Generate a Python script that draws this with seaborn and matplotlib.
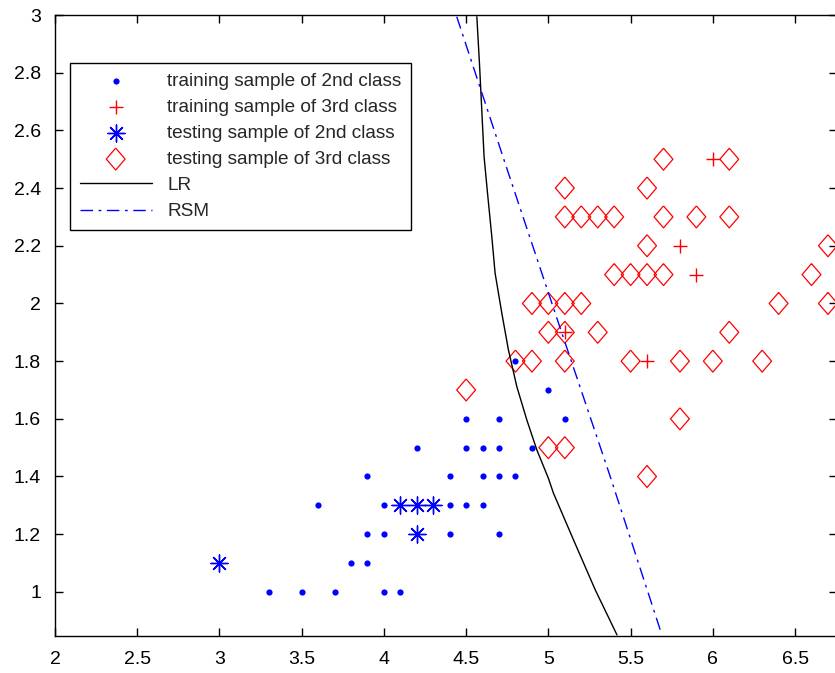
import matplotlib
matplotlib.use("Agg")
import matplotlib.pyplot as plt
import seaborn as sns
from matplotlib.ticker import FormatStrFormatter, MultipleLocator

# training sample of 2nd class (petal length, petal width)
train2_x = [5.0, 4.5, 4.7, 5.1, 4.8, 4.2, 4.5, 4.6, 4.7, 4.9, 3.9, 4.4, 4.6, 4.7, 4.8,
            3.6, 4.0, 4.4, 4.5, 4.6, 3.9, 4.0, 4.4, 4.7, 3.8, 3.9, 3.3, 3.5, 3.7, 4.0, 4.1]
train2_y = [1.7, 1.6, 1.6, 1.6, 1.8, 1.5, 1.5, 1.5, 1.5, 1.5, 1.4, 1.4, 1.4, 1.4, 1.4,
            1.3, 1.3, 1.3, 1.3, 1.3, 1.2, 1.2, 1.2, 1.2, 1.1, 1.1, 1.0, 1.0, 1.0, 1.0, 1.0]

# training sample of 3rd class
train3_x = [6.0, 5.8, 5.9, 5.6, 5.1]
train3_y = [2.5, 2.2, 2.1, 1.8, 1.9]

# testing sample of 2nd class
test2_x = [4.1, 4.2, 4.3, 4.2, 3.0]
test2_y = [1.3, 1.3, 1.3, 1.2, 1.1]

# testing sample of 3rd class
test3_x = [5.7, 6.1,
           5.1, 5.6,
           5.1, 5.2, 5.3, 5.4, 5.7, 5.9, 6.1,
           5.6, 6.7,
           5.4, 5.5, 5.6, 5.7, 6.6,
           4.9, 5.0, 5.1, 5.2, 6.4, 6.7,
           5.0, 5.1, 5.3, 6.1,
           4.8, 4.9, 5.1, 5.5, 5.8, 6.0, 6.3,
           4.5, 5.8, 5.0, 5.1, 5.6]
test3_y = [2.5, 2.5,
           2.4, 2.4,
           2.3, 2.3, 2.3, 2.3, 2.3, 2.3, 2.3,
           2.2, 2.2,
           2.1, 2.1, 2.1, 2.1, 2.1,
           2.0, 2.0, 2.0, 2.0, 2.0, 2.0,
           1.9, 1.9, 1.9, 1.9,
           1.8, 1.8, 1.8, 1.8, 1.8, 1.8, 1.8,
           1.7, 1.6, 1.5, 1.5, 1.4]

# decision boundaries
lr_x = [4.565, 4.581, 4.595, 4.609, 4.630, 4.656, 4.676, 4.717, 4.757, 4.808,
        4.869, 4.930, 5.000, 5.031, 5.153, 5.285, 5.417]
lr_y = [2.994, 2.832, 2.671, 2.509, 2.382, 2.232, 2.105, 1.966, 1.839, 1.712,
        1.596, 1.492, 1.394, 1.342, 1.180, 1.007, 0.851]
rsm_x = [4.443, 4.727, 5.055, 5.376, 5.690]
rsm_y = [2.994, 2.503, 1.943, 1.400, 0.851]

sns.set_style("ticks")
plt.rcParams["font.family"] = ["Liberation Sans", "DejaVu Sans"]

fig = plt.figure(figsize=(8.35, 6.73), dpi=100)
ax = fig.add_axes([55 / 835, 37 / 673, 782 / 835, 621 / 673])

diamond = [(0, 1), (0.86, 0), (0, -1), (-0.86, 0), (0, 1)]

sns.scatterplot(x=train2_x, y=train2_y, ax=ax, marker="o", s=20, color="blue",
                edgecolor="blue", linewidth=0, label="training sample of 2nd class")
sns.scatterplot(x=train3_x, y=train3_y, ax=ax, marker="+", s=110, color="red",
                linewidth=1.0, label="training sample of 3rd class")
sns.scatterplot(x=test2_x, y=test2_y, ax=ax, marker=(8, 2, 0), s=150, color="blue",
                linewidth=1.0, label="testing sample of 2nd class")
sns.scatterplot(x=test3_x, y=test3_y, ax=ax, marker=diamond, s=250, facecolor="none",
                edgecolor="red", linewidth=0.9, label="testing sample of 3rd class")
sns.lineplot(x=lr_x, y=lr_y, ax=ax, sort=False, estimator=None, color="black",
             lw=1.0, label="LR")
sns.lineplot(x=rsm_x, y=rsm_y, ax=ax, sort=False, estimator=None, color="blue",
             lw=1.0, linestyle=(0, (9, 4, 2, 4)), label="RSM")

ax.set_xlim(2, 6.755)
ax.set_ylim(0.847, 3.0)
ax.xaxis.set_major_locator(MultipleLocator(0.5))
ax.yaxis.set_major_locator(MultipleLocator(0.2))
ax.xaxis.set_major_formatter(FormatStrFormatter("%g"))
ax.yaxis.set_major_formatter(FormatStrFormatter("%g"))
ax.tick_params(direction="in", length=6, width=1, top=True, right=True,
               labelsize=14, colors="black")
ax.tick_params(axis="x", pad=11)
ax.tick_params(axis="y", pad=10)
for sp in ax.spines.values():
    sp.set_linewidth(1.0)
    sp.set_color("black")
ax.set_xlabel("")
ax.set_ylabel("")

leg = ax.legend(loc="upper left", bbox_to_anchor=(15 / 780, 573 / 621),
                borderaxespad=0, fontsize=13.7, handlelength=3.8, handletextpad=0.8,
                labelspacing=0.46, borderpad=0.5, fancybox=False, framealpha=1,
                edgecolor="black", scatterpoints=1)
leg.get_frame().set_linewidth(1.0)

fig.savefig("out.png", dpi=100)
